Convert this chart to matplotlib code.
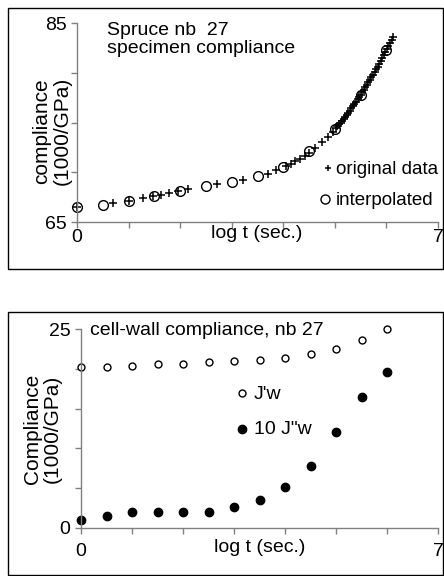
import matplotlib
matplotlib.use("Agg")
import matplotlib.pyplot as plt
from matplotlib.patches import Rectangle

plt.rcParams['font.family'] = ['Liberation Sans', 'DejaVu Sans']

# ---- top panel data ----
orig_logt = [0.00, 0.69, 1.00, 1.28, 1.48, 1.62, 1.78, 1.96, 2.16, 2.71, 3.21, 3.71,
             3.86, 4.05, 4.14, 4.22, 4.32, 4.42, 4.50, 4.61, 4.76, 4.87, 4.97,
             5.02, 5.05, 5.08, 5.11, 5.14, 5.17, 5.20, 5.23, 5.26, 5.29, 5.32, 5.35,
             5.38, 5.41, 5.44, 5.47, 5.50, 5.53, 5.56, 5.59, 5.62, 5.65, 5.68, 5.71,
             5.74, 5.77, 5.80, 5.83, 5.86, 5.89, 5.92, 5.95, 5.98, 6.01, 6.04, 6.07,
             6.10, 6.13]
orig_comp = [66.5, 66.9, 67.1, 67.4, 67.6, 67.7, 67.9, 68.1, 68.3, 68.8, 69.2, 69.8,
             70.2, 70.6, 70.8, 71.1, 71.3, 71.6, 71.9, 72.4, 73.0, 73.5, 74.0,
             74.4, 74.6, 74.8, 75.0, 75.2, 75.4, 75.6, 75.8, 76.0, 76.2, 76.45, 76.7,
             76.9, 77.1, 77.35, 77.6, 77.8, 78.05, 78.3, 78.55, 78.8, 79.05, 79.3, 79.55,
             79.8, 80.1, 80.35, 80.6, 80.9, 81.15, 81.45, 81.75, 82.05, 82.4, 82.7, 83.0,
             83.3, 83.6]
interp_logt = [0, 0.5, 1, 1.5, 2, 2.5, 3, 3.5, 4, 4.5, 5, 5.5, 6]
interp_comp = [66.5, 66.7, 67.1, 67.6, 68.1, 68.6, 69.0, 69.6, 70.5, 72.1, 74.3, 77.8, 82.3]

# ---- bottom panel data ----
cw_logt = [0, 0.5, 1, 1.5, 2, 2.5, 3, 3.5, 4, 4.5, 5, 5.5, 6]
jw_prime = [20.2, 20.2, 20.35, 20.6, 20.6, 20.8, 21.0, 21.15, 21.3, 21.9, 22.5, 23.6, 25.0]
jw_double10 = [1.05, 1.45, 2.05, 2.05, 2.05, 2.05, 2.6, 3.5, 5.2, 7.85, 12.1, 16.4, 19.6]

x_ticks = [0, 1, 2, 3, 4, 5, 6, 7]
x_ticklabels = ['0', '', '', '', '', '', '', '7']
top_yticks = [65, 70, 75, 80, 85]
top_yticklabels = ['65', '', '', '', '85']
bot_yticks = [0, 5, 10, 15, 20, 25]
bot_yticklabels = ['0', '', '', '', '', '25']

W, H = 444, 576
fig = plt.figure(figsize=(W / 100, H / 100), dpi=100)

def fx(px):
    return px / W

def fy(py):
    return 1 - py / H

# frames
fig.patches.append(Rectangle((fx(7.5), fy(269)), fx(443) - fx(7.5), fy(7.5) - fy(269),
                             transform=fig.transFigure, fill=False, lw=1.0, ec='black'))
fig.patches.append(Rectangle((fx(7.5), fy(575)), fx(443) - fx(7.5), fy(312) - fy(575),
                             transform=fig.transFigure, fill=False, lw=1.0, ec='black'))

spine_col = '#808080'
fs = 14
fs_leg = 13.5
fs_lab = 15

def style(ax, xpad):
    for s in ['top', 'right']:
        ax.spines[s].set_visible(False)
    for s in ['left', 'bottom']:
        ax.spines[s].set_color(spine_col)
        ax.spines[s].set_linewidth(1.0)
    ax.tick_params(direction='out', length=4.5, width=1.0, color=spine_col,
                   labelsize=fs)
    ax.tick_params(axis='y', pad=3)
    ax.tick_params(axis='x', pad=xpad)
    ax.set_facecolor('none')

def ftext(px, py, s, **kw):
    kw.setdefault('fontsize', fs)
    return fig.text(fx(px), fy(py), s, **kw)

# ---- top axes ----
ax1 = fig.add_axes([fx(77), fy(222), fx(438) - fx(77), fy(23) - fy(222)])
style(ax1, 0.5)
ax1.set_xlim(0, 7)
ax1.set_ylim(65, 85)
ax1.set_xticks(x_ticks)
ax1.set_xticklabels(x_ticklabels)
ax1.set_yticks(top_yticks)
ax1.set_yticklabels(top_yticklabels)
ax1.plot(orig_logt, orig_comp, ls='none', marker='+', ms=5.5, mew=1.1, color='black',
         clip_on=False)
ax1.plot(interp_logt, interp_comp, ls='none', marker='o', ms=7, mew=1.0, mfc='none',
         mec='black', clip_on=False)
ftext(107, 35, 'Spruce nb  27', ha='left', va='baseline')
ftext(107, 53, 'specimen compliance', ha='left', va='baseline')
ftext(257, 233, 'log t (sec.)', ha='center', va='center')
ftext(52, 131, 'compliance\n(1000/GPa)', ha='center', va='center', rotation=90,
      multialignment='center', linespacing=1.05, fontsize=fs_lab)
fig.lines.append(plt.Line2D([fx(328)], [fy(168)], transform=fig.transFigure, ls='none',
                            marker='+', ms=5, mew=1.1, color='black'))
ftext(336, 174, 'original data', ha='left', va='baseline', fontsize=fs_leg)
fig.lines.append(plt.Line2D([fx(325)], [fy(199)], transform=fig.transFigure, ls='none',
                            marker='o', ms=6.5, mew=1.0, mfc='none', mec='black'))
ftext(336, 205, 'interpolated', ha='left', va='baseline', fontsize=fs_leg)

# ---- bottom axes ----
ax2 = fig.add_axes([fx(81), fy(528), fx(438) - fx(81), fy(329) - fy(528)])
style(ax2, 6)
ax2.set_xlim(0, 7)
ax2.set_ylim(0, 25)
ax2.set_xticks(x_ticks)
ax2.set_xticklabels(x_ticklabels)
ax2.set_yticks(bot_yticks)
ax2.set_yticklabels(bot_yticklabels)
ax2.plot(cw_logt, jw_prime, ls='none', marker='o', ms=5, mew=1.0, mfc='white',
         mec='black', clip_on=False)
ax2.plot(cw_logt, jw_double10, ls='none', marker='o', ms=6, mew=1.0, mfc='black',
         mec='black', clip_on=False)
ftext(90, 335, 'cell-wall compliance, nb 27', ha='left', va='baseline')
ftext(260, 548, 'log t (sec.)', ha='center', va='center')
ftext(42, 429, 'Compliance\n(1000/GPa)', ha='center', va='center', rotation=90,
      multialignment='center', linespacing=1.05, fontsize=fs_lab)
fig.lines.append(plt.Line2D([fx(242)], [fy(393)], transform=fig.transFigure, ls='none',
                            marker='o', ms=5, mew=1.0, mfc='white', mec='black'))
ftext(254, 399, "J'w", ha='left', va='baseline')
fig.lines.append(plt.Line2D([fx(242)], [fy(429)], transform=fig.transFigure, ls='none',
                            marker='o', ms=6, mew=1.0, mfc='black', mec='black'))
ftext(254, 434, '10 J"w', ha='left', va='baseline')

fig.savefig('out.png', dpi=100)
